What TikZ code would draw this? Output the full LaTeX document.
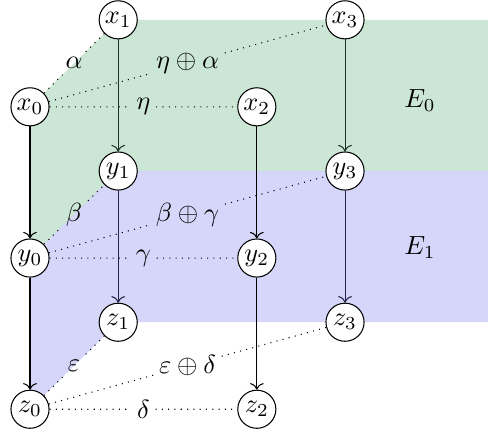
\documentclass[tikz,border=0pt]{standalone}
\usepackage{amsmath}
\usepackage{amssymb}
\usetikzlibrary{arrows.meta,positioning,calc,backgrounds}
\definecolor{sheetzero}{RGB}{85,172,118}
\definecolor{sheetone}{RGB}{115,118,235}

\begin{document}
\begin{tikzpicture}[scale=0.803,
                    vert/.style={circle, draw, fill=white, inner sep=1pt, minimum size=0.51cm},
                    link/.style={dotted},
                    lbl/.style={inner sep=2pt},
                    map/.style={->}]
  \useasboundingbox (0,0) rectangle (8.133,-7.2);
  \coordinate (rim) at (8.133,0);

  % front columns
  \node[vert] (x0) at (0.5,-1.78) {$x_0$};
  \node[vert] (y0) at (0.5,-4.30) {$y_0$};
  \node[vert] (z0) at (0.5,-6.82) {$z_0$};
  \node[vert] (x2) at (4.28,-1.78) {$x_2$};
  \node[vert] (y2) at (4.28,-4.30) {$y_2$};
  \node[vert] (z2) at (4.28,-6.82) {$z_2$};
  % back columns
  \node[vert] (x1) at (1.97,-0.33) {$x_1$};
  \node[vert] (y1) at (1.97,-2.85) {$y_1$};
  \node[vert] (z1) at (1.97,-5.37) {$z_1$};
  \node[vert] (x3) at (5.75,-0.33) {$x_3$};
  \node[vert] (y3) at (5.75,-2.85) {$y_3$};
  \node[vert] (z3) at (5.75,-5.37) {$z_3$};

  % back arrows, under the sheets
  \begin{scope}[on background layer]
    \draw[map] (x1) -- (y1);
    \draw[map] (y1) -- (z1);
    \draw[map] (x3) -- (y3);
    \draw[map] (y3) -- (z3);

    \fill[sheetzero, fill opacity=0.3] (x0.center) -- (x1.center) -- (x1 -| rim) -- (y1 -| rim)
        -- (y1.center) -- (y0.center) -- cycle;
    \fill[sheetone, fill opacity=0.3] (y0.center) -- (y1.center) -- (y1 -| rim) -- (z1 -| rim)
        -- (z1.center) -- (z0.center) -- cycle;
  \end{scope}

  \node (E0) at (7.0,-1.67) {$E_0$};
  \node (E1) at (7.0,-4.13) {$E_1$};

  % labelled dotted links
  \foreach \a/\b/\c/\t in {x/0/1/\alpha, x/0/3/\eta\oplus\alpha, x/0/2/\eta,
                           y/0/1/\beta, y/0/3/\beta\oplus\gamma, y/0/2/\gamma,
                           z/0/1/\varepsilon, z/0/3/\varepsilon\oplus\delta, z/0/2/\delta} {
    \path (\a\b) -- node[lbl] (l\a\c) {$\t$} (\a\c);
    \draw[link] (\a\b) -- (l\a\c) -- (\a\c);
  }

  % front arrows
  \draw[map] (x0) -- (y0);
  \draw[map] (y0) -- (z0);
  \draw[map] (x2) -- (y2);
  \draw[map] (y2) -- (z2);
\end{tikzpicture}
\end{document}
